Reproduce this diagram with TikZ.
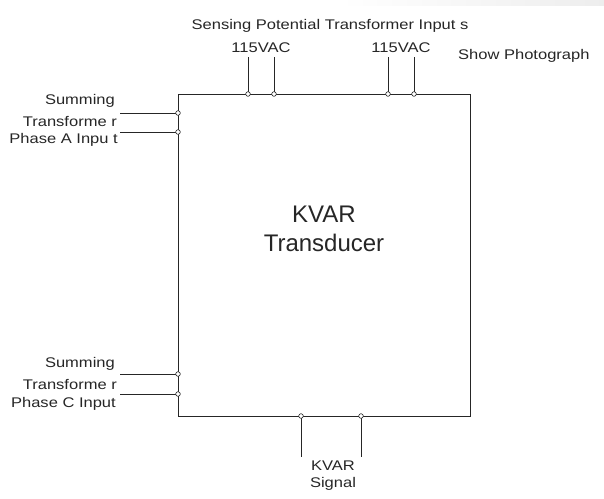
\documentclass[tikz,border=0pt]{standalone}
\usepackage{fontspec}
\setmainfont{Liberation Sans}
\newfontfamily\widefont[FakeStretch=1.18]{Liberation Sans}
\begin{document}
\begin{tikzpicture}[x=1pt,y=-1pt,
  wire/.style={line width=0.9pt,black!85},
  term/.style={circle,draw=black!85,fill=white,line width=0.6pt,inner sep=0pt,minimum size=4.6pt},
  lbl/.style={font=\widefont\fontsize{14}{19}\selectfont,text=black!85,inner sep=0pt},
  biglbl/.style={font=\fontsize{24}{29}\selectfont,text=black!85,inner sep=0pt,align=center}]
\useasboundingbox (0,0) rectangle (604,498);
% faint header strip
\shade[left color=white,right color=black!7] (340,0) rectangle (604,5);

% transducer body
\node[draw=black!85,line width=0.9pt,minimum width=292pt,minimum height=322pt,inner sep=0pt,anchor=north west] (box) at (178,94) {};
\node[biglbl] (kvar) at (324,214) {KVAR};
\node[biglbl] (trans) at (324,243) {Transducer};

% top terminals (sensing PT inputs)
\coordinate (t1) at (248,94);
\coordinate (t2) at (274,94);
\coordinate (t3) at (388,94);
\coordinate (t4) at (414,94);
\coordinate (t1e) at (248,57);
\coordinate (t2e) at (274,57);
\coordinate (t3e) at (388,57);
\coordinate (t4e) at (414,57);
\foreach \i in {1,...,4} \draw[wire] (t\i e) -- (t\i);

\node[lbl] (sense) at (330,26) {Sensing Potential Transformer Input s};
\node[lbl] (vac1) at (261,48) {115VAC};
\node[lbl] (vac2) at (401,48) {115VAC};
\node[lbl,anchor=west] (photo) at (458,55.5) {Show Photograph};

% left terminals (summing transformers)
\coordinate (a1) at (178,113);
\coordinate (a2) at (178,132);
\coordinate (c1) at (178,374);
\coordinate (c2) at (178,394);
\coordinate (a1e) at (120,113);
\coordinate (a2e) at (120,132);
\coordinate (c1e) at (120,374);
\coordinate (c2e) at (120,394);
\foreach \i in {a1,a2,c1,c2} \draw[wire] (\i e) -- (\i);

\node[lbl,anchor=east] (sa1) at (115,101) {Summing};
\node[lbl,anchor=east] (sa2) at (117,121) {Transforme r};
\node[lbl,anchor=east] (sa3) at (118,139.5) {Phase A Inpu t};
\node[lbl,anchor=east] (sc1) at (115,364) {Summing};
\node[lbl,anchor=east] (sc2) at (117,384) {Transforme r};
\node[lbl,anchor=east] (sc3) at (116,404) {Phase C Input};

% bottom terminals (KVAR signal output)
\coordinate (o1) at (301,416);
\coordinate (o2) at (361,416);
\coordinate (o1e) at (301,457);
\coordinate (o2e) at (361,457);
\foreach \i in {1,2} \draw[wire] (o\i) -- (o\i e);
\node[lbl] (sig1) at (333,466) {KVAR};
\node[lbl] (sig2) at (333,484) {Signal};

% terminal rings
\foreach \p in {t1,t2,t3,t4,a1,a2,c1,c2,o1,o2} \node[term] at (\p) {};
\end{tikzpicture}
\end{document}
